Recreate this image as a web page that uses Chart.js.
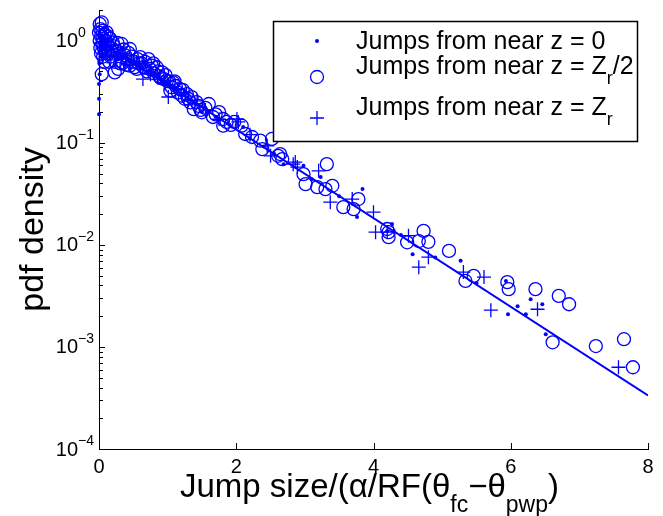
<!DOCTYPE html>
<html>
<head>
<meta charset="utf-8">
<script src="https://cdn.jsdelivr.net/npm/chart.js@4.4.1/dist/chart.umd.min.js"></script>
<style>
html,body{margin:0;padding:0;background:#fff;}
canvas{display:block;}
</style>
</head>
<body>
<canvas id="c" width="663" height="516"></canvas>
<script>
// ---- data ----
const xTicks = [0, 2, 4, 6, 8];
const yTickExps = [0, -1, -2, -3, -4];

// Jumps from near z = 0 (dots)
const dotsX = [0.00,0.00,0.00,0.01,0.01,0.02,0.02,0.03,0.04,0.05,0.06,0.08,0.10,0.12,0.15,0.20,0.25,0.30,0.35,0.40,0.45,0.50,0.55,0.60,0.70,0.80,0.90,1.00,1.10,1.20,1.30,1.40,1.50,1.60,1.70,1.90,2.10,2.20,2.40,2.55,2.69,2.98,3.10,3.23,3.50,3.76,3.84,4.20,4.27,4.40,4.57,4.90,5.27,5.50,5.93,5.96,6.10,6.22,6.29,6.46,6.51,
  0.01,0.03,0.05,0.07,0.09,0.13,0.18,0.22,0.28,0.33,0.38,0.65,0.75,0.85,0.95,1.05,1.25,1.35];
const dotsY = [0.19,0.27,0.376,0.47,0.60,0.70,0.80,0.90,1.00,0.75,1.10,0.85,0.95,0.80,0.88,0.82,0.72,0.78,0.68,0.70,0.62,0.60,0.58,0.55,0.50,0.45,0.42,0.37,0.33,0.30,0.27,0.24,0.200,0.20,0.18,0.15,0.143,0.11,0.092,0.078,0.0618,0.0595,0.044,0.0461,0.030,0.0187,0.0352,0.0137,0.0160,0.0125,0.00811,0.0075,0.00697,0.0042,0.00443,0.00209,0.0025,0.00209,0.00294,0.00262,0.00133,
  1.20,1.05,0.65,0.95,0.72,1.00,0.70,0.90,0.66,0.85,0.60,0.60,0.52,0.47,0.40,0.36,0.32,0.26];

// Jumps from near z = Zr/2 (open circles)
const circX = [0.01,0.04,0.02,0.03,0.11,0.05,0.07,0.10,0.12,0.09,0.14,0.06,0.04,0.16,0.18,0.20,0.23,0.28,0.25,0.30,0.33,0.35,0.38,0.42,0.45,0.45,0.50,0.55,0.58,0.60,0.65,0.70,0.72,0.77,0.80,0.84,0.88,0.92,0.95,0.99,1.04,1.08,1.12,1.18,1.21,1.25,1.28,1.33,1.38,1.45,
  0.00,0.01,0.02,0.03,0.05,0.06,0.08,0.08,0.13,0.15,0.17,0.22,0.24,0.27,0.31,0.36,0.40,0.43,0.48,0.52,0.56,0.62,0.67,0.74,0.79,0.86,0.90,0.97,1.02,1.06,1.10,1.15,1.22,1.30,1.35,1.42,1.48,1.55,1.70,1.75,1.92,1.97,
  1.50,1.60,1.66,1.81,1.86,1.81,2.08,2.13,2.23,2.35,2.52,2.38,2.61,2.67,2.64,3.32,2.98,3.01,3.18,3.30,3.40,3.56,3.78,3.71,4.20,4.22,4.22,4.49,4.73,4.66,4.80,5.10,5.34,5.46,5.95,5.97,6.36,6.70,6.85,6.61,7.24,7.65,7.78];
const circY = [1.46,1.51,1.30,1.10,1.21,0.95,0.85,1.00,0.90,0.77,0.75,0.70,0.47,1.05,0.85,0.96,0.49,0.53,0.80,0.75,0.93,0.61,0.72,0.65,0.83,0.57,0.62,0.53,0.60,0.69,0.55,0.50,0.66,0.57,0.48,0.55,0.45,0.49,0.42,0.405,0.324,0.39,0.36,0.336,0.289,0.27,0.30,0.249,0.214,0.23,
  1.20,1.00,0.85,0.75,1.25,1.05,1.15,0.62,1.10,0.62,0.70,0.88,0.62,0.95,0.60,0.82,0.58,0.76,0.70,0.55,0.66,0.60,0.62,0.53,0.60,0.50,0.43,0.46,0.40,0.35,0.40,0.31,0.33,0.27,0.28,0.25,0.21,0.22,0.19,0.20,0.15,0.16,
  0.199,0.240,0.179,0.171,0.160,0.147,0.147,0.122,0.114,0.105,0.109,0.0867,0.0746,0.0692,0.0776,0.0618,0.0493,0.0394,0.0368,0.0352,0.0379,0.0234,0.0281,0.0224,0.0143,0.0133,0.0119,0.0106,0.0137,0.0109,0.0107,0.00873,0.00443,0.00497,0.00431,0.00368,0.00368,0.00316,0.00262,0.00111,0.00102,0.00119,0.000632];

// Jumps from near z = Zr (plus signs)
const plusX = [0.02,0.05,0.08,0.12,0.18,0.25,0.35,0.45,0.55,0.64,0.75,0.85,0.95,1.01,1.15,1.30,1.43,1.55,1.75,2.01,2.03,2.20,2.45,2.50,2.83,2.86,2.89,3.20,3.37,3.69,4.00,4.03,4.20,4.51,4.66,4.80,5.31,5.61,5.71,6.39,7.57];
const plusY = [0.95,0.85,1.05,0.70,0.90,0.65,0.75,0.58,0.62,0.421,0.47,0.45,0.38,0.281,0.34,0.26,0.258,0.21,0.17,0.171,0.160,0.12,0.0934,0.0746,0.0618,0.0647,0.0578,0.0531,0.0262,0.0281,0.0209,0.0133,0.0133,0.0123,0.00605,0.00757,0.00541,0.00483,0.00229,0.00234,0.000632];

// fitted exponential (straight on semilog axes)
const fitX = [0, 8];
const fitY = [1, 0.000335];

// ---- build ----
const BLUE = '#0000ff';
const FONT = '"Liberation Sans", Arial, Helvetica, sans-serif';
const pts = (xs, ys) => xs.map((v, i) => ({x: v, y: ys[i]}));

function drawRich(ctx, parts, x, y, size, align, subDrop) {
  const subSize = Math.round(size * 0.7);
  const drop = subDrop === undefined ? 0.33 : subDrop;
  let total = 0;
  const w = parts.map(p => {
    ctx.font = (p.s ? subSize : size) + 'px ' + FONT;
    const m = ctx.measureText(p.t).width;
    total += m;
    return m;
  });
  let cx = x;
  if (align === 'center') cx = x - total / 2;
  else if (align === 'right') cx = x - total;
  ctx.textAlign = 'left';
  ctx.textBaseline = 'alphabetic';
  parts.forEach((p, i) => {
    ctx.font = (p.s ? subSize : size) + 'px ' + FONT;
    let dy = 0;
    if (p.s === 'sub') dy = size * drop;
    if (p.s === 'sup') dy = -size * 0.45;
    ctx.fillText(p.t, cx, y + dy);
    cx += w[i];
  });
}

const decorPlugin = {
  id: 'decor',
  afterDraw(chart) {
    const {ctx, chartArea: a} = chart;
    const xs = chart.scales.x, ys = chart.scales.y;
    ctx.save();
    ctx.strokeStyle = '#000';
    ctx.fillStyle = '#000';
    ctx.lineWidth = 1;
    // x ticks (inward)
    ctx.beginPath();
    xTicks.forEach(v => {
      const px = Math.round(xs.getPixelForValue(v)) + 0.5;
      ctx.moveTo(px, a.bottom);
      ctx.lineTo(px, a.bottom - 6);
    });
    // y ticks major + minor (inward)
    yTickExps.forEach(e => {
      const py = Math.round(ys.getPixelForValue(Math.pow(10, e))) + 0.5;
      ctx.moveTo(a.left, py); ctx.lineTo(a.left + 6, py);
    });
    for (let e = -4; e <= 0; e++) {
      for (let m = 2; m <= 9; m++) {
        const v = m * Math.pow(10, e);
        if (v > ys.max) continue;
        const py = Math.round(ys.getPixelForValue(v)) + 0.5;
        ctx.moveTo(a.left, py); ctx.lineTo(a.left + 4, py);
      }
    }
    ctx.stroke();

    // x tick labels
    ctx.font = '20px ' + FONT;
    ctx.textAlign = 'center';
    ctx.textBaseline = 'middle';
    xTicks.forEach(v => {
      ctx.fillText(String(v), xs.getPixelForValue(v), a.bottom + 18);
    });
    // y tick labels 10^e
    yTickExps.forEach(e => {
      const py = ys.getPixelForValue(Math.pow(10, e));
      ctx.font = '20px ' + FONT;
      ctx.textAlign = 'right';
      ctx.textBaseline = 'middle';
      ctx.fillText('10', 78, py + 1);
      ctx.font = '14px ' + FONT;
      ctx.textAlign = 'left';
      ctx.fillText(e === 0 ? '0' : '\u2212' + Math.abs(e), 78, py - 8);
    });

    // axis titles
    drawRich(ctx, [
      {t: 'Jump size/(\u03b1/RF(\u03b8'}, {t: 'fc', s: 'sub'},
      {t: '\u2212\u03b8'}, {t: 'pwp', s: 'sub'}, {t: ')'}
    ], (a.left + a.right) / 2 - 4, 497, 33, 'center', 0.46);

    ctx.save();
    ctx.translate(43, (a.top + a.bottom) / 2);
    ctx.rotate(-Math.PI / 2);
    ctx.font = '34px ' + FONT;
    ctx.textAlign = 'center';
    ctx.textBaseline = 'alphabetic';
    ctx.fillText('pdf density', 0, 0);
    ctx.restore();

    // legend
    ctx.fillStyle = '#fff';
    ctx.fillRect(273, 21, 364, 120);
    ctx.lineWidth = 1.5;
    ctx.strokeStyle = '#000';
    ctx.strokeRect(273.5, 21.5, 364, 120);
    const mx = 317;
    ctx.fillStyle = BLUE;
    ctx.strokeStyle = BLUE;
    ctx.lineWidth = 1.3;
    ctx.beginPath(); ctx.arc(mx, 41, 2, 0, Math.PI * 2); ctx.fill();
    ctx.beginPath(); ctx.arc(mx, 77, 6.5, 0, Math.PI * 2); ctx.stroke();
    ctx.beginPath();
    ctx.moveTo(mx - 7, 118); ctx.lineTo(mx + 7, 118);
    ctx.moveTo(mx, 111); ctx.lineTo(mx, 125);
    ctx.stroke();
    ctx.fillStyle = '#000';
    drawRich(ctx, [{t: 'Jumps from near z = 0'}], 356, 49, 25, 'left');
    drawRich(ctx, [{t: 'Jumps from near z = Z'}, {t: 'r', s: 'sub'}, {t: '/2'}], 356, 74, 25, 'left', 0.4);
    drawRich(ctx, [{t: 'Jumps from near z = Z'}, {t: 'r', s: 'sub'}], 356, 115, 25, 'left', 0.4);
    ctx.restore();
  }
};

const hiddenAxis = (extra) => Object.assign({
  display: true,
  grid: {display: false, drawTicks: false, tickLength: 0},
  ticks: {display: false},
  border: {display: true, color: '#000', width: 1}
}, extra);

new Chart(document.getElementById('c'), {
  type: 'scatter',
  data: {
    datasets: [
      {label: 'Jumps from near z = 0', data: pts(dotsX, dotsY), pointStyle: 'circle',
       pointRadius: 2, backgroundColor: BLUE, borderColor: BLUE, borderWidth: 0, clip: false},
      {label: 'Jumps from near z = Zr/2', data: pts(circX, circY), pointStyle: 'circle',
       pointRadius: 6.5, backgroundColor: 'rgba(0,0,0,0)', borderColor: BLUE, borderWidth: 1.3, clip: false},
      {label: 'Jumps from near z = Zr', data: pts(plusX, plusY), pointStyle: 'cross',
       pointRadius: 7, borderColor: BLUE, borderWidth: 1.3, clip: false},
      {type: 'line', label: 'fit', data: pts(fitX, fitY), borderColor: BLUE, borderWidth: 2,
       pointRadius: 0, fill: false, showLine: true, tension: 0}
    ]
  },
  options: {
    responsive: false,
    animation: false,
    devicePixelRatio: 1,
    layout: {padding: {left: 99, top: 10, right: 15, bottom: 67}},
    plugins: {legend: {display: false}, tooltip: {enabled: false}},
    scales: {
      x: hiddenAxis({type: 'linear', min: 0, max: 8}),
      y: hiddenAxis({type: 'logarithmic', min: 1e-4, max: 2})
    }
  },
  plugins: [decorPlugin]
});
</script>
</body>
</html>
